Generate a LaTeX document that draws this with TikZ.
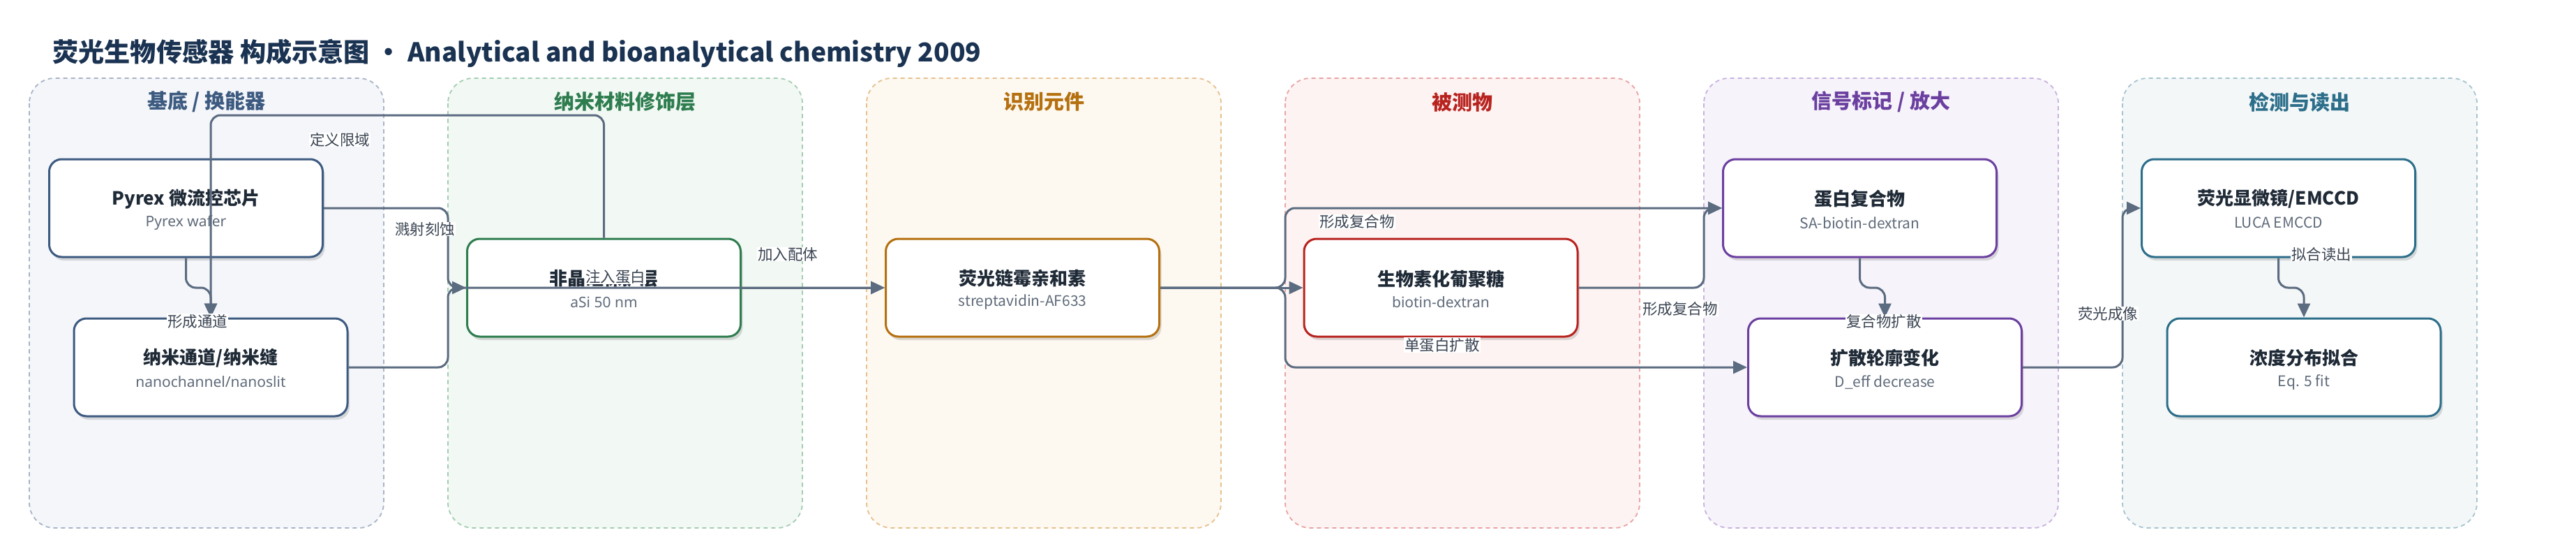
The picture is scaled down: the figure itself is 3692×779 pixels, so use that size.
\documentclass[tikz,border=0pt]{standalone}
\usepackage{fontspec}
\setmainfont{Noto Sans CJK SC}
\newfontfamily\nsans{Noto Sans}
\usetikzlibrary{arrows.meta,shadows,calc}
\definecolor{edgec}{HTML}{5B6B80}
\definecolor{titlec}{HTML}{1B3352}
\definecolor{ink}{HTML}{1F2A37}
\definecolor{subc}{HTML}{5F6B7A}
\definecolor{lblc}{HTML}{3A4452}
\definecolor{gAd}{HTML}{3D5A80}\definecolor{gAl}{HTML}{A8B4C6}\definecolor{gAf}{HTML}{F4F6FA}
\definecolor{gBd}{HTML}{2E7D4F}\definecolor{gBl}{HTML}{A3CDB2}\definecolor{gBf}{HTML}{F2F8F4}
\definecolor{gCd}{HTML}{B5700F}\definecolor{gCl}{HTML}{E6C08E}\definecolor{gCf}{HTML}{FDF8F0}
\definecolor{gDd}{HTML}{B8231F}\definecolor{gDl}{HTML}{E9A3A3}\definecolor{gDf}{HTML}{FDF3F2}
\definecolor{gEd}{HTML}{6B3FA0}\definecolor{gEl}{HTML}{C7B2DE}\definecolor{gEf}{HTML}{F6F3FA}
\definecolor{gFd}{HTML}{2C6E8A}\definecolor{gFl}{HTML}{A6C4D0}\definecolor{gFf}{HTML}{F3F7F8}
\tikzset{
  grp/.style={line width=1.8pt, dash pattern=on 6pt off 5pt, rounded corners=36pt},
  grptitle/.style={font=\bfseries\fontsize{29}{32}\selectfont},
  box/.style={draw, fill=white, line width=3pt, rounded corners=18pt,
    minimum width=392pt, minimum height=140pt, inner sep=0pt,
    drop shadow={shadow xshift=3pt, shadow yshift=-5pt, opacity=0.13, fill=black}},
  ttl/.style={font=\bfseries\fontsize{26}{30}\selectfont, text=ink, inner sep=0pt},
  sub/.style={font=\fontsize{21}{25}\selectfont, text=subc, inner sep=0pt},
  lbl/.style={fill=white, inner xsep=1pt, inner ysep=0.5pt, font=\fontsize{21.5}{24}\selectfont, text=lblc},
  edge/.style={draw=edgec, line width=3pt, rounded corners=14pt, -{Triangle[length=20pt,width=18pt]}}
}
\begin{document}
\begin{tikzpicture}[x=1pt,y=-1pt]
\useasboundingbox (0,0) rectangle (3692,779);
\fill[white] (0,0) rectangle (3692,779);
% title
\node[anchor=west, inner sep=0pt, font=\bfseries\fontsize{37.2}{42}\selectfont, text=titlec] (title) at (75,76)
  {荧光生物传感器 构成示意图 · Analytical and bioanalytical chemistry 2009};
% groups
\draw[grp, draw=gAl, fill=gAf] (42,112) rectangle (550,756);
\draw[grp, draw=gBl, fill=gBf] (642,112) rectangle (1150,756);
\draw[grp, draw=gCl, fill=gCf] (1242,112) rectangle (1750,756);
\draw[grp, draw=gDl, fill=gDf] (1842,112) rectangle (2350,756);
\draw[grp, draw=gEl, fill=gEf] (2442,112) rectangle (2950,756);
\draw[grp, draw=gFl, fill=gFf] (3042,112) rectangle (3550,756);
\node[grptitle, text=gAd] (gA) at (296,146) {基底 / 换能器};
\node[grptitle, text=gBd] (gB) at (896,146) {纳米材料修饰层};
\node[grptitle, text=gCd] (gC) at (1496,146) {识别元件};
\node[grptitle, text=gDd] (gD) at (2096,146) {被测物};
\node[grptitle, text=gEd] (gE) at (2696,146) {信号标记 / 放大};
\node[grptitle, text=gFd] (gF) at (3296,146) {检测与读出};
% nodes
\node[box, draw=gAd] (pyrex) at (266.5,298) {};
\node[box, draw=gAd] (nano) at (302,526) {};
\node[box, draw=gBd] (asi) at (865.5,412) {};
\node[box, draw=gCd] (strep) at (1465.5,412) {};
\node[box, draw=gDd] (biot) at (2065,412) {};
\node[box, draw=gEd] (prot) at (2665.5,298) {};
\node[box, draw=gEd] (diff) at (2701.5,526) {};
\node[box, draw=gFd] (mic) at (3265.5,298) {};
\node[box, draw=gFd] (conc) at (3302,526) {};
% node texts
\node[ttl] (pyrexT) at ($(pyrex.center)+(0,-13)$) {Pyrex 微流控芯片};
\node[sub] (pyrexS) at ($(pyrex.center)+(0,21)$) {\nsans Pyrex wafer};
\node[ttl] (nanoT) at ($(nano.center)+(0,-13)$) {纳米通道/纳米缝};
\node[sub] (nanoS) at ($(nano.center)+(0,21)$) {\nsans nanochannel/nanoslit};
\node[ttl] (asiT) at ($(asi.center)+(0,-13)$) {非晶硅保护层};
\node[sub] (asiS) at ($(asi.center)+(0,21)$) {\nsans aSi 50 nm};
\node[ttl] (strepT) at ($(strep.center)+(0,-13)$) {荧光链霉亲和素};
\node[sub] (strepS) at ($(strep.center)+(0,21)$) {streptavidin-AF633};
\node[ttl] (biotT) at ($(biot.center)+(0,-13)$) {生物素化葡聚糖};
\node[sub] (biotS) at ($(biot.center)+(0,21)$) {\nsans biotin-dextran};
\node[ttl] (protT) at ($(prot.center)+(0,-13)$) {蛋白复合物};
\node[sub] (protS) at ($(prot.center)+(0,21)$) {SA-biotin-dextran};
\node[ttl] (diffT) at ($(diff.center)+(0,-13)$) {扩散轮廓变化};
\node[sub] (diffS) at ($(diff.center)+(0,21)$) {D\_eff decrease};
\node[ttl] (micT) at ($(mic.center)+(0,-13)$) {荧光显微镜/EMCCD};
\node[sub] (micS) at ($(mic.center)+(0,21)$) {LUCA EMCCD};
\node[ttl] (concT) at ($(conc.center)+(0,-13)$) {浓度分布拟合};
\node[sub] (concS) at ($(conc.center)+(0,21)$) {Eq. 5 fit};
% lanes
\coordinate (lA) at (642,0);
\coordinate (lB) at (1842,0);
\coordinate (lC) at (2442,0);
\coordinate (lD) at (3042,0);
\coordinate (top) at (0,165);
\coordinate (mid) at (0,412);
% edges
\draw[edge] (pyrex.south) -- (pyrex.south |- mid) -- (nano.north |- mid) -- (nano.north);
\draw[edge] (pyrex.east) -- (pyrex.east -| lA) -- (asi.west -| lA) -- (asi.west);
\draw[edge] (asi.north) -- (asi.north |- top) -- (nano.north |- top) -- (nano.north);
\draw[edge] (nano.east) -- (nano.east -| lA) -- (asi.west -| lA) -- (strep.west);
\draw[edge] (asi.east) -- (strep.west);
\draw[edge] (strep.east) -- (biot.west);
\draw[edge] (strep.east) -- (strep.east -| lB) -- (prot.west -| lB) -- (prot.west);
\draw[edge] (strep.east) -- (strep.east -| lB) -- (diff.west -| lB) -- (diff.west);
\draw[edge] (biot.east) -- (biot.east -| lC) -- (prot.west -| lC) -- (prot.west);
\draw[edge] (prot.south) -- (prot.south |- mid) -- (diff.north |- mid) -- (diff.north);
\draw[edge] (diff.east) -- (diff.east -| lD) -- (mic.west -| lD) -- (mic.west);
\draw[edge] (mic.south) -- (mic.south |- mid) -- (conc.north |- mid) -- (conc.north);
% edge labels
\node[lbl] (e1) at (283,460) {形成通道};
\node[lbl] (e2) at (609,328) {溅射刻蚀};
\node[lbl] (e3) at (487,200) {定义限域};
\node[lbl] (e4) at (882,396) {注入蛋白};
\node[lbl] (e5) at (1129,364) {加入配体};
\node[lbl] (e6) at (1945,317) {形成复合物};
\node[lbl] (e7) at (2067,494) {单蛋白扩散};
\node[lbl] (e8) at (2408,442) {形成复合物};
\node[lbl] (e9) at (2700,460) {复合物扩散};
\node[lbl] (e10) at (3021,449) {荧光成像};
\node[lbl] (e11) at (3327,364) {拟合读出};
\end{tikzpicture}
\end{document}
